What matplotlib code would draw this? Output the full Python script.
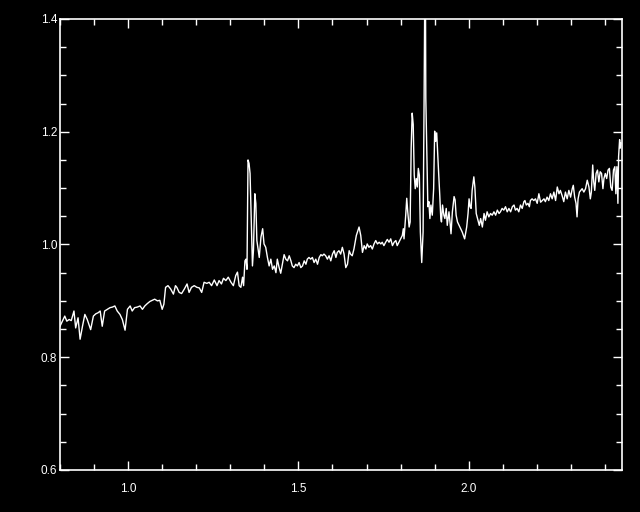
import matplotlib
matplotlib.use("Agg")
import matplotlib.pyplot as plt
from matplotlib import font_manager
from matplotlib.ticker import MultipleLocator, FormatStrFormatter
import numpy as np

# ---- data ----
wave_a = [0.800,0.807,0.814,0.820,0.827,0.833,0.841,0.846,0.853,0.859,
          0.866,0.873,0.880,0.890,0.898,0.905,0.912,0.918,0.924,0.931,
          0.939,0.947,0.954,0.961,0.968,0.976,0.983,0.991,0.998,1.006,
          1.012,1.019,1.027,1.035,1.042,1.049,1.056,1.064,1.071,1.078,
          1.086,1.093,1.100,1.105,1.110,1.117,1.125,1.133,1.139]
flux_a = [0.855,0.864,0.873,0.864,0.867,0.865,0.882,0.852,0.870,0.832,
          0.855,0.876,0.867,0.849,0.873,0.877,0.879,0.882,0.855,0.882,
          0.885,0.888,0.889,0.891,0.882,0.876,0.867,0.848,0.885,0.891,
          0.882,0.888,0.889,0.891,0.885,0.891,0.895,0.899,0.901,0.903,
          0.900,0.901,0.885,0.894,0.924,0.927,0.921,0.912,0.927]

wave_b = [1.143,1.150,1.157,1.165,1.173,1.179,1.186,1.194,1.202,1.209,
          1.216,1.223,1.231,1.238,1.245,1.253,1.261,1.267,1.274,1.280,
          1.287,1.294,1.302,1.309,1.316,1.321,1.326,1.331,1.336,1.339]
flux_b = [0.924,0.915,0.913,0.921,0.930,0.915,0.924,0.927,0.924,0.923,
          0.915,0.933,0.931,0.933,0.927,0.937,0.927,0.936,0.930,0.940,
          0.936,0.942,0.933,0.927,0.945,0.951,0.927,0.924,0.942,0.927]

wave_c = [1.343,1.346,1.349,1.352,1.355,1.358,1.362,1.365,1.368,1.372,
          1.375,1.378,1.382,1.385,1.390,1.395,1.399,1.404,1.409,1.414,
          1.419,1.424,1.429,1.434,1.438,1.443,1.448,1.453,1.458,1.463,
          1.468,1.473,1.478,1.482,1.487,1.492,1.497,1.502,1.507,1.512,
          1.517,1.522,1.526,1.531,1.536,1.541,1.546,1.551,1.556,1.561,
          1.566,1.570,1.575,1.580,1.585,1.590,1.595,1.600,1.605,1.610,
          1.614,1.619,1.624,1.629,1.634,1.639,1.644,1.649,1.653]
flux_c = [0.971,0.974,0.956,1.150,1.144,1.126,1.031,0.962,0.990,1.090,
          1.073,1.007,0.990,0.977,1.013,1.028,1.001,0.995,0.977,0.962,
          0.974,0.956,0.962,0.950,0.974,0.960,0.949,0.965,0.982,0.974,
          0.971,0.980,0.971,0.962,0.959,0.965,0.962,0.968,0.959,0.962,
          0.971,0.965,0.974,0.977,0.974,0.977,0.968,0.974,0.965,0.977,
          0.982,0.980,0.983,0.980,0.974,0.980,0.971,0.983,0.989,0.977,
          0.986,0.989,0.983,0.995,0.983,0.959,0.965,0.989,0.983]

wave_d = [1.658,1.663,1.670,1.678,1.683,1.688,1.693,1.698,1.702,1.707,
          1.712,1.717,1.722,1.727,1.732,1.737,1.742,1.746,1.751,1.756,
          1.761,1.766,1.771,1.776,1.781,1.786,1.790,1.795,1.800,1.805,
          1.808,1.810,1.815,1.818,1.821,1.825,1.828,1.831,1.834,1.837,
          1.840,1.843,1.846,1.849,1.852,1.855,1.858,1.862,1.866,1.869,
          1.871,1.873,1.874,1.877,1.880,1.883,1.886,1.889,1.893,1.897,
          1.900,1.903,1.906,1.909,1.911,1.915,1.918,1.920,1.923,1.927,
          1.930,1.934,1.937,1.942,1.945,1.948,1.952,1.957,1.960,1.963,
          1.967]
flux_d = [0.980,0.992,1.016,1.031,1.016,0.986,0.998,0.992,1.001,0.995,
          0.998,0.992,1.001,1.007,1.001,1.004,1.001,1.004,0.998,1.004,
          1.009,1.004,1.010,0.998,1.004,1.007,0.998,1.004,1.010,1.016,
          1.028,1.010,1.052,1.082,1.058,1.031,1.040,1.171,1.233,1.213,
          1.123,1.099,1.117,1.102,1.135,1.123,1.022,0.968,1.022,1.260,
          1.450,1.450,1.260,1.159,1.067,1.076,1.046,1.070,1.052,1.099,
          1.201,1.183,1.198,1.159,1.135,1.087,1.046,1.040,1.070,1.052,
          1.046,1.064,1.034,1.058,1.040,1.019,1.058,1.085,1.079,1.052,
          1.040]

wave_e = [1.974,1.981,1.988,1.994,1.998,2.001,2.004,2.007,2.010,2.015,
          2.018,2.022,2.027,2.031,2.035,2.040,2.045,2.049,2.054,2.059,
          2.064,2.069,2.074,2.079,2.084,2.089,2.093,2.098,2.103,2.108,
          2.113,2.118,2.123,2.128,2.133,2.137,2.142,2.147,2.152,2.157,
          2.162,2.165,2.169,2.174,2.178,2.181,2.186,2.191,2.196,2.201,
          2.206,2.211,2.216]
flux_e = [1.031,1.022,1.010,1.031,1.055,1.081,1.067,1.064,1.096,1.120,
          1.102,1.055,1.043,1.034,1.046,1.031,1.055,1.043,1.058,1.049,
          1.055,1.052,1.058,1.052,1.061,1.055,1.058,1.064,1.061,1.067,
          1.058,1.064,1.058,1.067,1.070,1.061,1.064,1.058,1.070,1.064,
          1.076,1.078,1.070,1.073,1.067,1.078,1.081,1.078,1.081,1.073,
          1.090,1.075,1.078]

wave_f = [2.221,2.225,2.230,2.235,2.240,2.245,2.250,2.255,2.260,2.265,
          2.269,2.274,2.279,2.284,2.289,2.294,2.299,2.304,2.307,2.311,
          2.315,2.318,2.321,2.325,2.329,2.333,2.338,2.343,2.348,2.353,
          2.357,2.360,2.364,2.367,2.370,2.374,2.378,2.382,2.386,2.390,
          2.394,2.397,2.401,2.405,2.409,2.413,2.417,2.421,2.425,2.429,
          2.432,2.435,2.438,2.440,2.443,2.445,2.447]
flux_f = [1.081,1.076,1.084,1.078,1.090,1.081,1.093,1.078,1.102,1.090,
          1.096,1.087,1.076,1.093,1.081,1.096,1.084,1.099,1.105,1.084,
          1.073,1.049,1.081,1.093,1.096,1.099,1.093,1.099,1.114,1.102,
          1.081,1.093,1.141,1.111,1.096,1.126,1.132,1.111,1.129,1.126,
          1.099,1.117,1.126,1.117,1.132,1.135,1.102,1.096,1.132,1.138,
          1.090,1.138,1.073,1.156,1.186,1.171,1.180]

x_range = (0.8, 2.45)
y_range = (0.6, 1.4)

wave = np.concatenate([wave_a, wave_b, wave_c, wave_d, wave_e, wave_f])
flux = np.concatenate([flux_a, flux_b, flux_c, flux_d, flux_e, flux_f])

# pick a narrow font if present
label_family = "DejaVu Sans"
label_size = 8
for fam, size in [("Liberation Sans Narrow", 9), ("Liberation Sans", 8.5)]:
    try:
        font_manager.findfont(fam, fallback_to_default=False)
        label_family, label_size = fam, size
        break
    except Exception:
        pass

# ---- figure ----
fig = plt.figure(figsize=(6.4, 5.12), dpi=100, facecolor="black")
ax = fig.add_axes([60/640, 42/512, 562/640, 451/512])
ax.set_facecolor("black")
ax.plot(wave, flux, color="white", lw=1.0)
ax.set_xlim(*x_range)
ax.set_ylim(*y_range)

ax.xaxis.set_major_locator(MultipleLocator(0.5))
ax.xaxis.set_minor_locator(MultipleLocator(0.1))
ax.yaxis.set_major_locator(MultipleLocator(0.2))
ax.yaxis.set_minor_locator(MultipleLocator(0.05))
ax.xaxis.set_major_formatter(FormatStrFormatter("%.1f"))
ax.yaxis.set_major_formatter(FormatStrFormatter("%.1f"))

ax.tick_params(which="both", direction="in", top=True, right=True,
               colors="white", width=1.0)
ax.tick_params(which="major", length=6.8)
ax.tick_params(which="minor", length=4.1)
ax.tick_params(axis="x", which="major", pad=9)
ax.tick_params(axis="y", which="major", pad=2)
for lab in ax.get_xticklabels() + ax.get_yticklabels():
    lab.set_family([label_family, "DejaVu Sans"])
    lab.set_fontsize(label_size)
    lab.set_color("white")
for sp in ax.spines.values():
    sp.set_color("white")
    sp.set_linewidth(1.2)

fig.savefig("out.png", dpi=100, facecolor="black")
